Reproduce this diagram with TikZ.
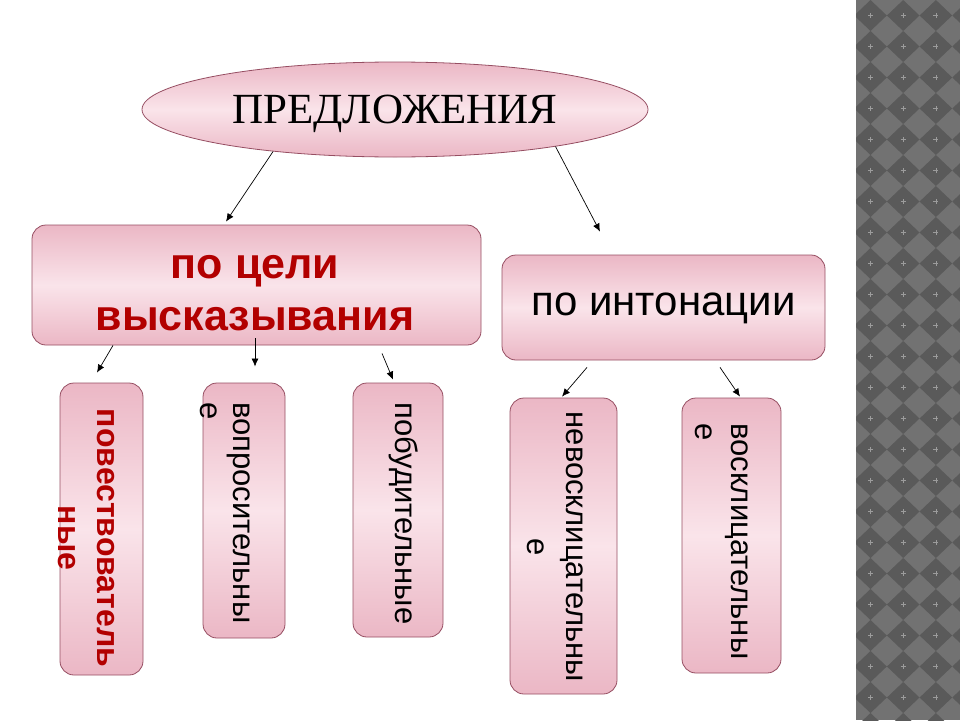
\documentclass[tikz,border=0pt]{standalone}
\usepackage{fontspec}
\setmainfont{Liberation Sans}
\newfontfamily\titlefont{Liberation Serif}
\usetikzlibrary{arrows.meta,shapes.geometric}
\definecolor{pinkdark}{RGB}{235,183,197}
\definecolor{pinklight}{RGB}{250,228,234}
\definecolor{edgecol}{RGB}{150,78,98}
\definecolor{wine}{RGB}{178,0,0}
\definecolor{stripgray}{RGB}{114,114,114}
\definecolor{stripdark}{RGB}{90,90,90}

\begin{document}
\begin{tikzpicture}[x=1pt, y=-1pt,
  box/.style={draw=edgecol, line width=0.8pt, rounded corners=14pt, top color=pinkdark, bottom color=pinkdark, middle color=pinklight, inner sep=0pt},
  oval/.style={ellipse, draw=edgecol, line width=0.8pt, top color=pinkdark, bottom color=pinkdark, middle color=pinklight, inner sep=0pt},
  vtext/.style={rotate=-90, inner sep=0pt, font=\fontsize{31}{38}\selectfont},
  arr/.style={-{Latex[length=8pt, width=7pt]}, line width=0.7pt}]
\useasboundingbox (0,0) rectangle (960,720);
% checkered strip on the right
\begin{scope}
\clip (856,0) rectangle (960,720);
\fill[stripgray] (856,0) rectangle (960,720);
\foreach \i in {0,...,3}
  \foreach \j in {0,...,23} {
    \fill[stripdark] ({870.5+32.7*\i},{15.5+31*\j}) +(-16.3,0) -- +(0,-15.5) -- +(16.3,0) -- +(0,15.5) -- cycle;
    \draw[stripgray!70!white, line width=0.3pt] ({870.5+32.7*\i},{15.5+31*\j}) +(-2.5,0) -- +(2.5,0) +(0,-2.5) -- +(0,2.5);
  }
\end{scope}
% top oval
\node[oval, minimum width=506pt, minimum height=95pt, text depth=0pt, font=\titlefont\fontsize{43}{52}\selectfont] (sent) at (395,109.5) {ПРЕДЛОЖЕНИЯ};
% second level
\node[box, minimum width=449pt, minimum height=120pt] (goal) at (256.5,285) {};
\node[anchor=north, inner sep=0pt, align=center, text=wine, font=\bfseries\fontsize{43}{52}\selectfont] (goaltxt) at (255,255) {по цели\\высказывания};
\node[box, minimum width=323pt, minimum height=105pt, text depth=7pt, font=\fontsize{42}{50}\selectfont] (into) at (663.5,307.5) {по интонации};
% third level
\node[box, minimum width=83pt, minimum height=292pt] (povb) at (101.5,529) {};
\node[box, minimum width=82pt, minimum height=255pt] (vopb) at (244,510.5) {};
\node[box, minimum width=90pt, minimum height=254pt] (pobb) at (398,510) {};
\node[box, minimum width=107pt, minimum height=296pt] (nevb) at (563.5,546) {};
\node[box, minimum width=99pt, minimum height=275pt] (vosb) at (731.5,535.5) {};
\node[vtext, anchor=north, align=center, text=wine, font=\bfseries\fontsize{32}{39}\selectfont] (povtxt) at (115,538) {повествователь\\ные};
\node[vtext, anchor=north west, align=left, font=\fontsize{31}{33}\selectfont] (voptxt) at (250,402) {вопросительны\\е};
\node[vtext, anchor=base] (pobtxt) at (395,513.5) {побудительные};
\node[vtext, anchor=north, align=center, font=\fontsize{31}{39}\selectfont] (nevtxt) at (583,547) {невосклицательны\\е};
\node[vtext, anchor=north west, align=left, font=\fontsize{31}{36}\selectfont] (vostxt) at (748,423) {восклицательны\\е};
% arrows
\draw[arr] (sent.199) -- ([xshift=-30.5pt,yshift=3pt]goal.north);
\draw[arr] (sent.-13) -- ([xshift=-63.5pt,yshift=23pt]into.north);
\draw[arr] ([xshift=-143.5pt]goal.south) -- ([xshift=-4.5pt,yshift=10pt]povb.north);
\draw[arr] ([xshift=-1.5pt,yshift=7pt]goal.south) -- ([xshift=11pt,yshift=16pt]vopb.north);
\draw[arr] ([xshift=125.5pt,yshift=-8pt]goal.south) -- ([xshift=-5pt,yshift=3pt]pobb.north);
\draw[arr] ([xshift=-76.5pt,yshift=-7pt]into.south) -- ([xshift=-1.5pt,yshift=1pt]nevb.north);
\draw[arr] ([xshift=56.5pt,yshift=-7pt]into.south) -- ([xshift=8.5pt,yshift=1pt]vosb.north);
\end{tikzpicture}
\end{document}
